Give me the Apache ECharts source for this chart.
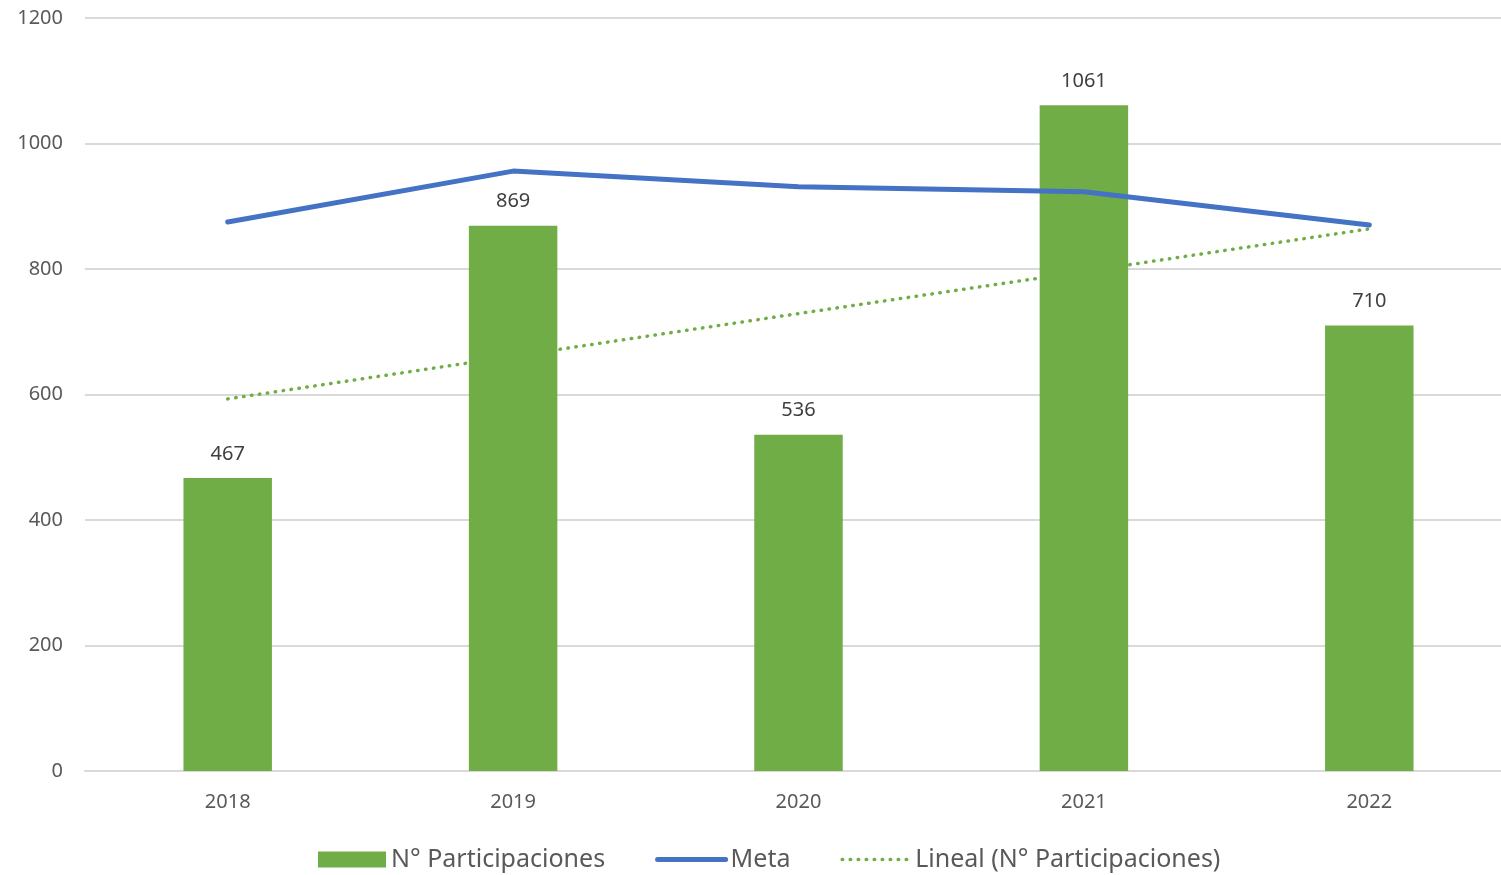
<!DOCTYPE html>
<html><head><meta charset="utf-8">
<script src="https://cdn.jsdelivr.net/npm/echarts@6/dist/echarts.min.js"></script>
<style>html,body{margin:0;padding:0;background:#fff;overflow:hidden}#c{width:1512px;height:875px}</style>
</head><body><div id="c"></div>
<script>
const categories = ['2018','2019','2020','2021','2022'];
const participaciones = [467, 869, 536, 1061, 710];
const meta = [875, 956, 931, 923, 870];
const lineal = [593, 661, 729, 796, 864];
const yTicks = [0, 200, 400, 600, 800, 1000, 1200];

const FONT = '"Noto Sans", "Open Sans", sans-serif';
const chart = echarts.init(document.getElementById('c'));
chart.setOption({
  animation: false,
  textStyle: { fontFamily: FONT },
  grid: { left: 85, top: 18, right: 0, bottom: 104, containLabel: false },
  legend: {
    bottom: -2,
    left: 313,
    itemWidth: 68, itemHeight: 16, itemGap: 50,
    textStyle: { fontFamily: FONT, fontSize: 25, color: '#595959' },
    data: [
      { name: 'N° Participaciones', icon: 'rect' },
      { name: 'Meta', itemStyle: { opacity: 0 }, lineStyle: { width: 5, color: '#4472C4', cap: 'round' } },
      { name: 'Lineal (N° Participaciones)', itemStyle: { opacity: 0 }, lineStyle: { width: 3.5, color: '#70AD47', type: [0.5, 7.5], cap: 'round' } }
    ]
  },
  xAxis: {
    type: 'category', data: categories,
    axisLine: { lineStyle: { color: '#D9D9D9', width: 2 } },
    axisTick: { show: false },
    axisLabel: { color: '#595959', fontSize: 20, margin: 21, fontFamily: FONT }
  },
  yAxis: {
    type: 'value', min: yTicks[0], max: yTicks[yTicks.length - 1], interval: 200,
    axisLine: { show: false }, axisTick: { show: false },
    axisLabel: { color: '#595959', fontSize: 20, margin: 22, fontFamily: FONT, formatter: v => String(v) },
    splitLine: { lineStyle: { color: '#D9D9D9', width: 2 } }
  },
  series: [
    {
      name: 'N° Participaciones', type: 'bar', data: participaciones,
      barWidth: '31%',
      itemStyle: { color: '#70AD47' },
      label: { show: true, position: 'top', distance: 14, color: '#404040', fontSize: 20, fontFamily: FONT }
    },
    {
      name: 'Lineal (N° Participaciones)', type: 'line', data: lineal,
      symbol: 'none', z: 3,
      lineStyle: { color: '#70AD47', width: 3.5, type: [0.5, 7.5], cap: 'round' },
      itemStyle: { color: '#70AD47' }
    },
    {
      name: 'Meta', type: 'line', data: meta,
      symbol: 'none', z: 4,
      lineStyle: { color: '#4472C4', width: 5, cap: 'round' },
      itemStyle: { color: '#4472C4' }
    }
  ]
});
</script></body></html>
